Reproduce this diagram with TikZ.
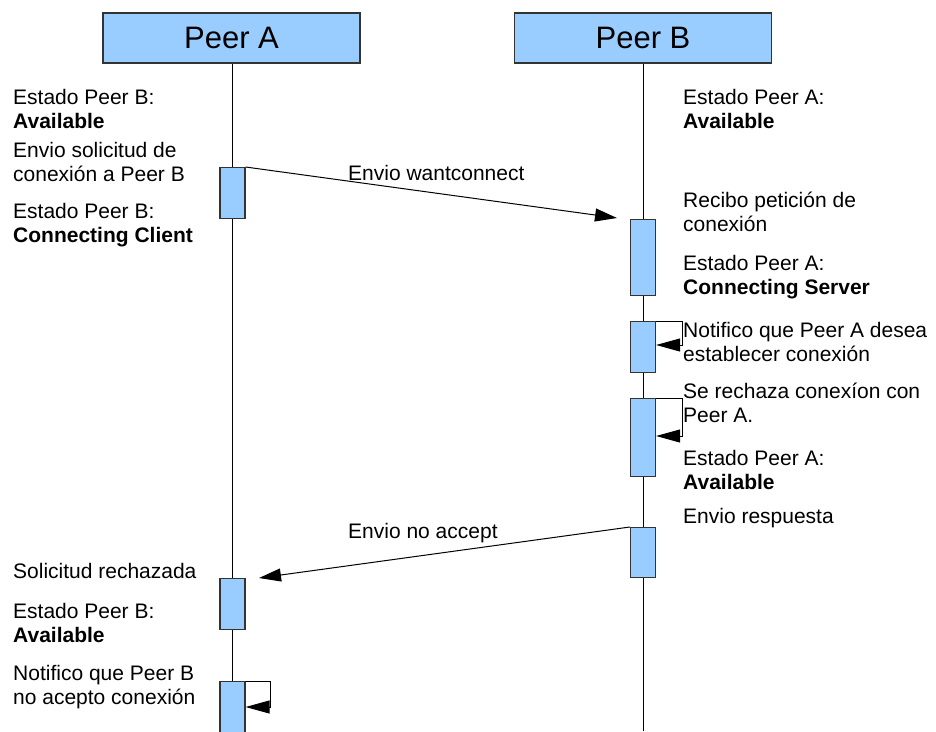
\documentclass[tikz,border=0pt]{standalone}
\usepackage{fontspec}
\setmainfont{Liberation Sans}
\usetikzlibrary{arrows.meta}
\definecolor{actfill}{HTML}{99CCFF}
\definecolor{boxline}{HTML}{333333}
\begin{document}
\begin{tikzpicture}[x=1pt,y=-1pt,
  head/.style={draw=boxline, line width=1.3pt, fill=actfill, minimum width=257pt, minimum height=50pt, inner sep=0pt, font=\fontsize{31}{36}\selectfont},
  act/.style={draw=boxline, line width=1.2pt, fill=actfill, minimum width=25pt, inner sep=0pt, anchor=north},
  life/.style={line width=1pt, black},
  msg/.style={line width=1pt, -{Triangle[length=22pt,width=13pt]}},
  selfmsg/.style={line width=1pt, -{Triangle[length=24pt,width=13pt]}},
  lbl/.style={anchor=base west, inner sep=0pt, align=left, font=\fontsize{21}{24}\selectfont},
]
\useasboundingbox (0,0) rectangle (936,731);
% headers
\node[head] (pA) at (231.5,38) {Peer A};
\node[head] (pB) at (643,38) {Peer B};
\coordinate (endA) at (232.5,731);
\coordinate (endB) at (643,731);
\draw[life] (pA.south -| endA) -- (endA);
\draw[life] (pB.south) -- (endB);
% activations
\node[act, minimum height=51pt] (A1) at (232.5,167) {};
\node[act, minimum height=76pt] (B1) at (643,219) {};
\node[act, minimum height=51pt] (B2) at (643,321) {};
\node[act, minimum height=78pt] (B3) at (643,398) {};
\node[act, minimum height=50pt] (B4) at (643,527) {};
\node[act, minimum height=51pt] (A2) at (232.5,578) {};
\node[act, minimum height=52pt] (A3) at (232.5,681) {};
% messages
\coordinate (t1) at (617,218);
\coordinate (t2) at (259,578);
\draw[msg] (A1.north east) -- (t1);
\draw[msg] (B4.north west) -- (t2);
\coordinate (s1) at (682,345);
\coordinate (s2) at (682,436);
\coordinate (s3) at (270,707);
\draw[selfmsg] (B2.north east) -| (s1) -- (B2.east |- s1);
\draw[selfmsg] (B3.north east) -| (s2) -- (B3.east |- s2);
\draw[selfmsg] (A3.north east) -| (s3) -- (A3.east |- s3);
% message labels
\node[lbl] (m1) at (348,180) {Envio wantconnect};
\node[lbl] (m2) at (348,538) {Envio no accept};
% left texts (two-line nodes placed by the baseline of their last line)
\node[lbl] (L1) at (13,128) {Estado Peer B:\\\textbf{Available}};
\node[lbl] (L2) at (13,181) {Envio solicitud de\\conexión a Peer B};
\node[lbl] (L3) at (13,242) {Estado Peer B:\\\textbf{Connecting Client}};
\node[lbl] (L4) at (13,578) {Solicitud rechazada};
\node[lbl] (L5) at (13,642) {Estado Peer B:\\\textbf{Available}};
\node[lbl] (L6) at (13,704) {Notifico que Peer B\\no acepto conexión};
% right texts
\node[lbl] (R1) at (683,128) {Estado Peer A:\\\textbf{Available}};
\node[lbl] (R2) at (683,231) {Recibo petición de\\conexión};
\node[lbl] (R3) at (683,294) {Estado Peer A:\\\textbf{Connecting Server}};
\node[lbl] (R4) at (683,361) {Notifico que Peer A desea\\establecer conexión};
\node[lbl] (R5) at (683,422) {Se rechaza conexíon con\\Peer A.};
\node[lbl] (R6) at (683,489) {Estado Peer A:\\\textbf{Available}};
\node[lbl] (R7) at (683,523) {Envio respuesta};
\end{tikzpicture}
\end{document}
